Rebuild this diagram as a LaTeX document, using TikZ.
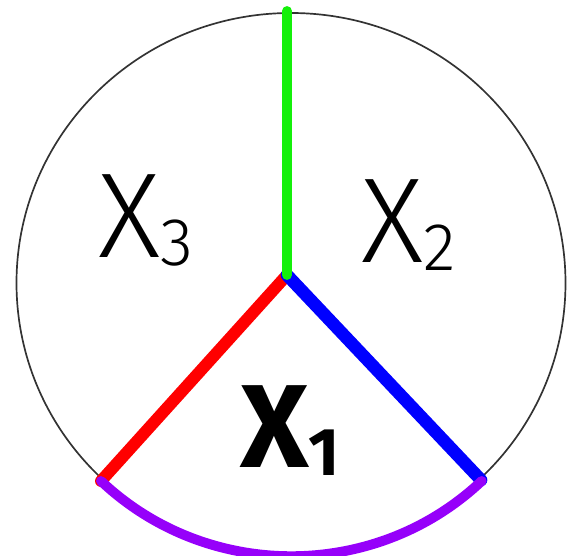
\documentclass[tikz,border=0pt]{standalone}
\usepackage{fontspec}
\setmainfont{Fira Sans}
\newfontfamily\lightfont{Fira Sans Light}
\definecolor{pengreen}{RGB}{20,240,10}
\definecolor{penred}{RGB}{255,0,0}
\definecolor{penblue}{RGB}{0,0,255}
\definecolor{penviolet}{RGB}{150,0,250}
\newcommand\sectlab[2]{#1\raisebox{-6pt}{\fontsize{48}{48}\selectfont #2}}
\begin{document}
\begin{tikzpicture}[x=0.025cm,y=0.025cm,
    pen/.style={line width=7pt, line cap=round},
    lab/.style={anchor=base west, inner sep=0pt, font=\lightfont\fontsize{86}{86}\selectfont}]
  \useasboundingbox (0,0) rectangle (567,555);
  \coordinate (C) at (291,272);
  \coordinate (J) at (287,280);
  \coordinate (T) at (287,544);
  \coordinate (L) at (101,74);
  \coordinate (R) at (481,75);
  % outline
  \draw[line width=1.2pt, black!80] (C) ellipse [x radius=274.5, y radius=270];
  % the three radii
  \draw[pen, penred, line width=8.5pt] (J) -- (L);
  \draw[pen, penblue, line width=9pt] (J) -- (R);
  \draw[pen, pengreen] (T) -- (J);
  % bottom arc
  \draw[pen, penviolet] (L) arc [start angle=226, end angle=314, x radius=274, y radius=268];
  % labels
  \node[lab] (x3) at (98,298) {\sectlab{X}{3}};
  \node[lab] (x2) at (361,293) {\sectlab{X}{2}};
  \node[lab, font=\bfseries\fontsize{84}{84}\selectfont] (x1) at (240,88) {\sectlab{X}{1}};
\end{tikzpicture}
\end{document}
